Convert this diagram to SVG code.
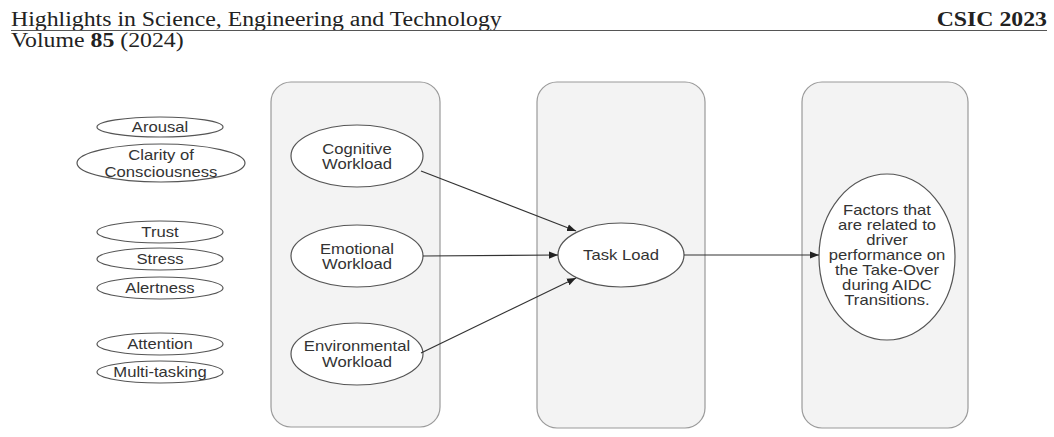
<svg xmlns="http://www.w3.org/2000/svg" width="1054" height="437" viewBox="0 0 1054 437">
  <style>
    .hdr { font-family: "Liberation Serif", "Times New Roman", serif; font-size: 20px; fill: #222; }
    .panel { fill: #f3f3f3; stroke: #9a9a9a; stroke-width: 1.2; }
    .node { fill: #ffffff; stroke: #555; stroke-width: 1.2; }
    .lbl { font-family: "Liberation Sans", Arial, sans-serif; font-size: 14px; fill: #333; text-anchor: middle; }
    .edge { stroke: #333; stroke-width: 1.2; fill: none; marker-end: url(#arrow); }
  </style>
  <defs>
    <marker id="arrow" viewBox="0 0 10 10" refX="10" refY="5" markerWidth="9" markerHeight="9" markerUnits="userSpaceOnUse" orient="auto">
      <path d="M0,1 L10,5 L0,9 z" fill="#222"/>
    </marker>
  </defs>
  <rect width="1054" height="437" fill="#ffffff"/>

  <!-- page header (type set slightly wide) -->
  <g id="header">
    <text class="hdr" transform="matrix(1.19 0 0 1 11 0)" x="0" y="26">Highlights in Science, Engineering and Technology</text>
    <text class="hdr" transform="matrix(1.19 0 0 1 1047 0)" x="0" y="26" text-anchor="end" font-weight="bold">CSIC 2023</text>
    <line x1="11" y1="30.5" x2="1047" y2="30.5" stroke="#555" stroke-width="1.2"/>
    <text class="hdr" transform="matrix(1.19 0 0 1 11 0)" x="0" y="47">Volume <tspan font-weight="bold">85</tspan> (2024)</text>
  </g>

  <!-- column panels -->
  <g id="panels">
    <rect class="panel" x="271" y="82" width="169" height="345" rx="20"/>
    <rect class="panel" x="537" y="82" width="168" height="346" rx="20"/>
    <rect class="panel" x="802" y="82" width="166" height="346" rx="20"/>
  </g>

  <!-- contributing states -->
  <g id="arousal"><ellipse class="node" cx="160" cy="127" rx="63" ry="10"/><text class="lbl" transform="matrix(1.19 0 0 1 160 0)" x="0" y="132">Arousal</text></g>
  <g id="clarity"><ellipse class="node" cx="161" cy="163" rx="84" ry="19"/><text class="lbl" transform="matrix(1.19 0 0 1 161 0)" x="0" y="160">Clarity of</text><text class="lbl" transform="matrix(1.19 0 0 1 161 0)" x="0" y="177">Consciousness</text></g>
  <g id="trust"><ellipse class="node" cx="160" cy="232" rx="63" ry="11"/><text class="lbl" transform="matrix(1.19 0 0 1 160 0)" x="0" y="237">Trust</text></g>
  <g id="stress"><ellipse class="node" cx="160" cy="259" rx="63" ry="11"/><text class="lbl" transform="matrix(1.19 0 0 1 160 0)" x="0" y="264">Stress</text></g>
  <g id="alertness"><ellipse class="node" cx="160" cy="288" rx="63" ry="11"/><text class="lbl" transform="matrix(1.19 0 0 1 160 0)" x="0" y="293">Alertness</text></g>
  <g id="attention"><ellipse class="node" cx="160" cy="344" rx="63" ry="11"/><text class="lbl" transform="matrix(1.19 0 0 1 160 0)" x="0" y="349">Attention</text></g>
  <g id="multitasking"><ellipse class="node" cx="160" cy="372" rx="63" ry="11"/><text class="lbl" transform="matrix(1.19 0 0 1 160 0)" x="0" y="377">Multi-tasking</text></g>

  <!-- workload types -->
  <g id="cognitive"><ellipse class="node" cx="357" cy="156" rx="66" ry="31"/><text class="lbl" transform="matrix(1.19 0 0 1 357 0)" x="0" y="154">Cognitive</text><text class="lbl" transform="matrix(1.19 0 0 1 357 0)" x="0" y="169">Workload</text></g>
  <g id="emotional"><ellipse class="node" cx="357" cy="256" rx="66" ry="31"/><text class="lbl" transform="matrix(1.19 0 0 1 357 0)" x="0" y="254">Emotional</text><text class="lbl" transform="matrix(1.19 0 0 1 357 0)" x="0" y="269">Workload</text></g>
  <g id="environmental"><ellipse class="node" cx="357" cy="354" rx="66" ry="31"/><text class="lbl" transform="matrix(1.19 0 0 1 357 0)" x="0" y="351">Environmental</text><text class="lbl" transform="matrix(1.19 0 0 1 357 0)" x="0" y="367">Workload</text></g>

  <!-- task load -->
  <g id="taskload"><ellipse class="node" cx="621" cy="255" rx="63" ry="32"/><text class="lbl" transform="matrix(1.19 0 0 1 621 0)" x="0" y="260">Task Load</text></g>

  <!-- outcome -->
  <g id="factors">
    <ellipse class="node" cx="887" cy="257" rx="68" ry="83"/>
    <g transform="matrix(1.19 0 0 1 887 0)">
      <text class="lbl" x="0" y="215">Factors that</text>
      <text class="lbl" x="0" y="230">are related to</text>
      <text class="lbl" x="0" y="245">driver</text>
      <text class="lbl" x="0" y="260">performance on</text>
      <text class="lbl" x="0" y="275">the Take-Over</text>
      <text class="lbl" x="0" y="290">during AIDC</text>
      <text class="lbl" x="0" y="305">Transitions.</text>
    </g>
  </g>

  <!-- connectors -->
  <g id="connectors">
    <line class="edge" x1="421" y1="171" x2="576" y2="231"/>
    <line class="edge" x1="423" y1="256" x2="558" y2="255"/>
    <line class="edge" x1="421" y1="353" x2="576" y2="278"/>
    <line class="edge" x1="684" y1="255" x2="819" y2="255"/>
  </g>
</svg>
